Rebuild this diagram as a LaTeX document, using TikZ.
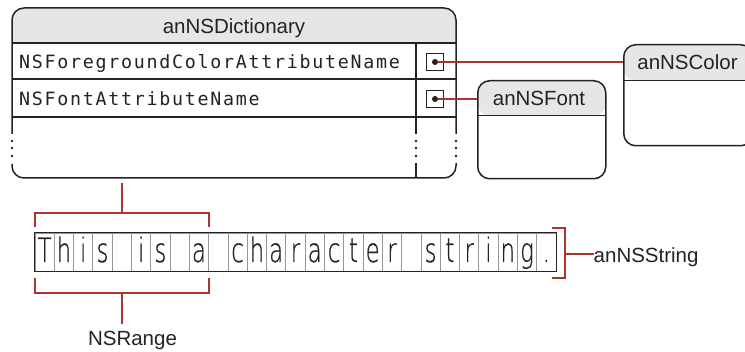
\documentclass[tikz,border=0pt]{standalone}
\usepackage{fontspec}
\usepackage{graphicx}
\setmainfont{Liberation Sans}
\newfontfamily\monofam{DejaVu Sans Mono}
\newfontfamily\thinfam{DejaVu Sans ExtraLight}[FakeBold=0.7]
\definecolor{redln}{RGB}{172,52,48}
\definecolor{headgray}{RGB}{230,230,230}
\definecolor{ink}{RGB}{35,35,35}
\definecolor{cellgray}{RGB}{150,150,150}
\makeatletter
\newcommand\spacedtext[2]{\@tfor\sp@ch:=#2\do{\makebox[#1][c]{\sp@ch}}}
\makeatother
\begin{document}
\begin{tikzpicture}[x=1pt,y=-1pt,
  outl/.style={ink,line width=1.5pt},
  titletext/.style={font=\fontsize{20.5}{24}\selectfont, text=ink, inner sep=0pt},
  keytext/.style={font=\monofam\fontsize{18.3}{20}\selectfont, text=ink, inner sep=0pt, anchor=base west},
  redline/.style={redln,line width=1.8pt},
  valbox/.style={draw=ink, line width=0.9pt, minimum size=17pt, inner sep=0pt},
  valdot/.style={circle, fill=ink, minimum size=6pt, inner sep=0pt},
  objbox/.style={draw=ink, line width=1.5pt, rounded corners=12pt, inner sep=0pt, anchor=north west,
    path picture={\fill[headgray] (path picture bounding box.north west) rectangle ([yshift=-#1]path picture bounding box.north east);
      \draw[ink,line width=1.5pt] ([yshift=-#1]path picture bounding box.north west) -- ([yshift=-#1]path picture bounding box.north east);}},
  cell/.style={draw=cellgray, line width=0.8pt, minimum width=19.296pt, minimum height=38pt, inner sep=0pt},
  celltext/.style={font=\thinfam\fontsize{33.5}{36}\selectfont, text=ink, inner sep=0pt, anchor=base},
]
\useasboundingbox (0,0) rectangle (745,352);
\clip (0,0) rectangle (745,352);
\fill[white] (0,0) rectangle (745,352);

% dictionary
\fill[headgray,rounded corners=12pt] (12,43) -- (12,8) -- (456,8) -- (456,43);
\draw[outl,rounded corners=12pt] (12,134) -- (12,8) -- (456,8) -- (456,134);
\draw[outl,rounded corners=12pt] (12,164) -- (12,178) -- (456,178) -- (456,163);
\draw[outl] (12,43) -- (456,43);
\draw[outl] (12,79) -- (456,79);
\draw[outl] (12,117) -- (456,117);
\draw[outl] (416,43) -- (416,134);
\draw[outl] (416,163) -- (416,178);
\foreach \x in {12,416,456} \foreach \y in {141,148,156} \fill[ink] (\x,\y) circle (1.3pt);

\node[titletext, anchor=base] (dicttitle) at (234,33.5) {anNSDictionary};
\node[keytext] (key1) at (18,68.5) {\spacedtext{12.75pt}{NSForegroundColorAttributeName}};
\node[keytext] (key2) at (18,106) {\spacedtext{12.75pt}{NSFontAttributeName}};

\node[valbox] (val1) at (434.5,62) {};
\node[valbox] (val2) at (434.5,99) {};
\node[valdot] (dot1) at (435,62) {};
\node[valdot] (dot2) at (435,99) {};

% objects
\node[objbox=36pt, minimum width=129pt, minimum height=101pt] (colorbox) at (623,44) {};
\node[titletext, anchor=base] (colortitle) at (687.5,69.3) {anNSColor};
\node[objbox=35pt, minimum width=128pt, minimum height=98pt] (fontbox) at (477,80) {};
\node[titletext, anchor=base] (fonttitle) at (539,106) {anNSFont};

\draw[redline] (dot1.east) -- (colorbox.west |- dot1);
\draw[redline] (dot2.east) -- (fontbox.west |- dot2);

% string
\foreach \ch [count=\i from 0] in {T,h,i,s, ,i,s, ,a, ,c,h,a,r,a,c,t,e,r, ,s,t,r,i,n,g,.} {
  \node[cell] (c\i) at ({35+19.296*(\i+0.5)},252) {};
  \node[celltext] (t\i) at ({35+19.296*(\i+0.5)},262) {\scalebox{0.68}[1]{\ch}};
}
\draw[ink,line width=1.3pt] (c0.north west) rectangle (c26.south east);

% NSRange brackets
\coordinate (rtop) at (122,183);
\coordinate (rbot) at (122,324);
\draw[redline] (35,227) -- (35,213) -- (209,213) -- (209,227);
\draw[redline] (122,213) -- (rtop);
\draw[redline] (35,278) -- (35,293) -- (209,293) -- (209,278);
\draw[redline] (122,293) -- (rbot);
\node[titletext, anchor=base] (rangelabel) at (132.5,346) {NSRange};

% string bracket
\draw[redline] (552,228) -- (565,228) -- (565,278) -- (552,278);
\node[titletext, anchor=base west] (strlabel) at (593.5,262.5) {anNSString};
\draw[redline] (565,254) -- (strlabel.west |- 565,254);
\end{tikzpicture}
\end{document}
